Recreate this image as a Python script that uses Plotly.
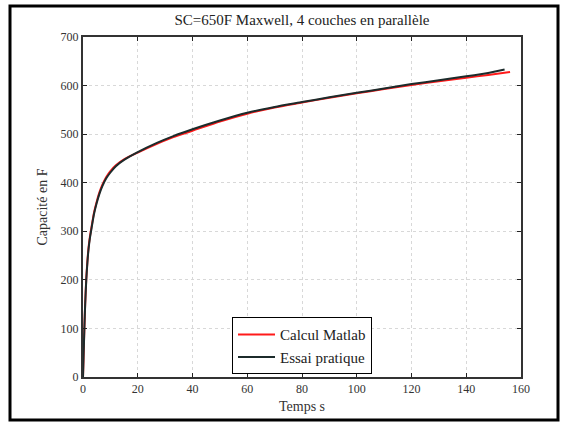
import plotly.graph_objects as go

# Data
t_essai = [0, 0.2, 0.5, 0.8, 1.2, 1.6, 2, 2.5, 3, 4, 5, 6, 7, 8.5, 10, 12, 15, 20, 27, 33, 40, 50, 60, 70, 80, 90, 100, 110, 120, 130, 140, 148, 154]
c_essai = [0, 40, 100, 150, 200, 235, 262, 285, 302, 335, 358, 377, 392, 409, 421, 434, 447, 463, 482, 496, 510, 528, 544, 556, 566, 576, 585, 594, 603, 611, 619, 626, 633]

t_calc = [0, 0.2, 0.5, 0.8, 1.2, 1.6, 2, 2.5, 3, 4, 5, 6, 7, 8.5, 10, 12, 15, 20, 27, 33, 40, 50, 60, 70, 80, 90, 100, 110, 120, 130, 140, 148, 156]
c_calc = [0, 40, 100, 152, 203, 238, 265, 288, 305, 338, 361, 380, 395, 412, 424, 436, 448, 462, 480, 494, 507, 526, 542, 555, 565, 575, 584, 593, 601, 609, 616, 622, 628]

x_ticks = [0, 20, 40, 60, 80, 100, 120, 140, 160]
y_ticks = [0, 100, 200, 300, 400, 500, 600, 700]

title_text = "SC=650F Maxwell, 4 couches en parallèle"
x_label = "Temps s"
y_label = "Capacité en F"
names = ["Calcul Matlab", "Essai pratique"]

FONT = "Liberation Serif, Times New Roman, serif"

fig = go.Figure()
fig.add_trace(go.Scatter(x=t_calc, y=c_calc, mode="lines", name=names[0],
                         line=dict(color="#ff1a1a", width=2, shape="spline", smoothing=0.6)))
fig.add_trace(go.Scatter(x=t_essai, y=c_essai, mode="lines", name=names[1],
                         line=dict(color="#1c2b2b", width=2, shape="spline", smoothing=0.6)))

W, H = 566, 424
L, R, T, B = 83, 45, 37, 47
pw, ph = W - L - R, H - T - B

def px_to_paper_x(px):
    return (px - L) / pw

def px_to_paper_y(py):
    return (H - B - py) / ph

fig.update_layout(
    width=W, height=H,
    margin=dict(l=L, r=R, t=T, b=B, autoexpand=False),
    paper_bgcolor="white", plot_bgcolor="white",
    font=dict(family=FONT, size=12, color="#222"),
    title=dict(text=title_text, x=302 / W, xanchor="center",
               y=1 - 20 / H, yanchor="middle", font=dict(size=15, family=FONT, color="#222")),
    showlegend=True,
    legend=dict(x=0.5, xanchor="center", y=0.008, yanchor="bottom",
                bgcolor="white", bordercolor="black", borderwidth=1,
                font=dict(size=15, family=FONT, color="#222"),
                tracegroupgap=0, itemwidth=37),
    xaxis=dict(range=[0, 160], tickvals=x_ticks, ticks="inside", ticklen=4, tickcolor="#222",
               showline=True, linecolor="#333", linewidth=2, mirror="ticks",
               showgrid=True, gridcolor="#d8d8d8", griddash="dot", gridwidth=1,
               zeroline=False, tickfont=dict(size=12, family=FONT, color="#333"),
               title=dict(text=x_label, standoff=6, font=dict(size=14, family=FONT, color="#333"))),
    yaxis=dict(range=[0, 700], tickvals=y_ticks, ticks="inside", ticklen=4, tickcolor="#222",
               showline=True, linecolor="#333", linewidth=2, mirror="ticks",
               showgrid=True, gridcolor="#d8d8d8", griddash="dot", gridwidth=1,
               zeroline=False, tickfont=dict(size=12, family=FONT, color="#333"),
               title=dict(text=y_label, standoff=10, font=dict(size=14, family=FONT, color="#333"))),
)

# outer frame around the whole figure
fig.add_shape(type="rect", xref="paper", yref="paper",
              x0=px_to_paper_x(10), x1=px_to_paper_x(558),
              y0=px_to_paper_y(420), y1=px_to_paper_y(6),
              line=dict(color="black", width=3), fillcolor="rgba(0,0,0,0)", layer="above")

fig.write_html("out.html", config={"displayModeBar": False},
               post_script="document.body.style.margin='0';")
